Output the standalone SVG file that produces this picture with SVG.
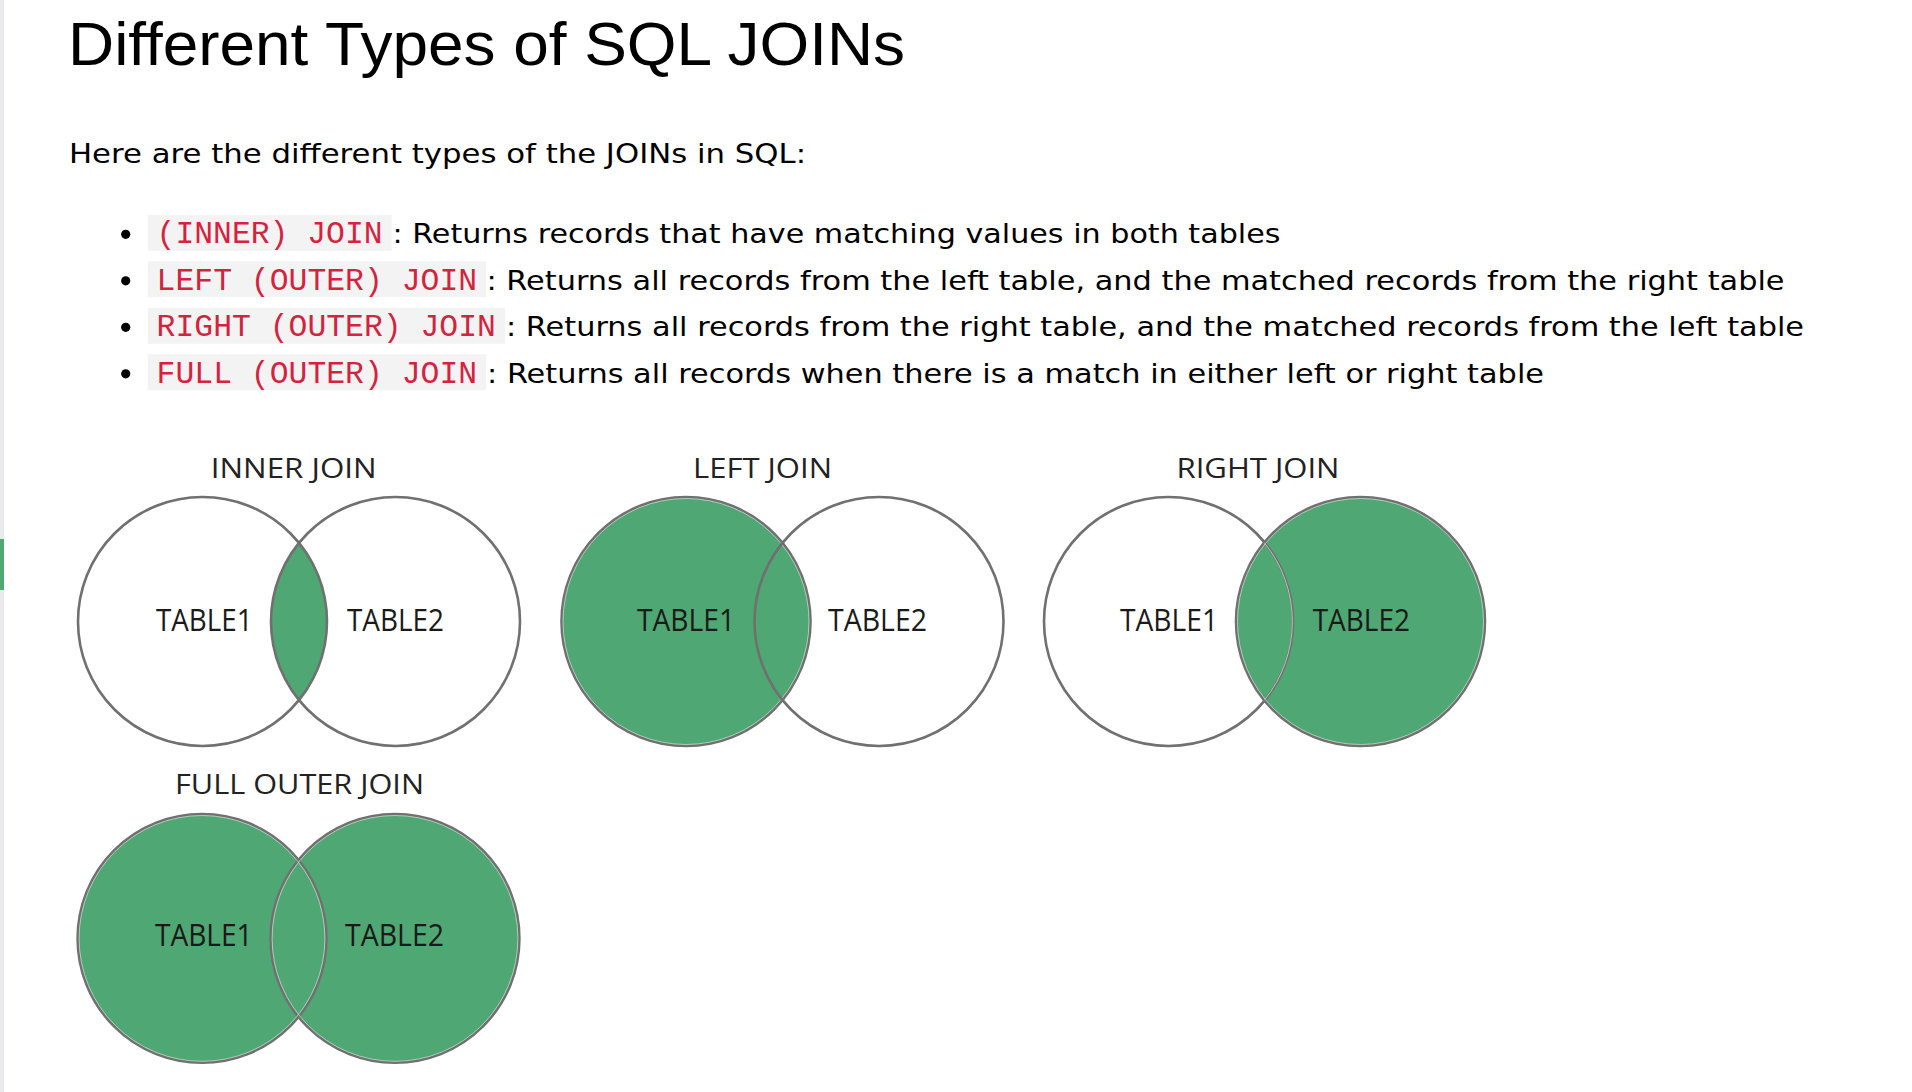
<svg xmlns="http://www.w3.org/2000/svg" width="1912" height="1092" viewBox="0 0 1912 1092">
<style>
.title{font-family:"Liberation Sans",Arial,sans-serif;font-size:61px;fill:#000}
.body{font-family:"DejaVu Sans",Verdana,sans-serif;font-size:26.5px;fill:#000}
.code{font-family:"Liberation Mono","DejaVu Sans Mono",monospace;font-size:32px;fill:#d2233f}
.codebg{fill:#f3f3f3}
.vt{font-family:"Open Sans","Noto Sans",sans-serif;font-size:28px;fill:#222;text-anchor:middle}
.vl{font-family:"Open Sans","Noto Sans",sans-serif;font-size:31px;fill:#1a1a1a;text-anchor:middle}
.ring{fill:none;stroke:#707070;stroke-width:2.6}
.fill{fill:#4fa773;stroke:none}
.halo{fill:none;stroke:#c9d6ce;stroke-width:0.8}
</style>
<rect x="0" y="0" width="1912" height="1092" fill="#fff"/>
<rect x="0" y="0" width="4" height="1092" fill="#e7e9eb"/>
<rect x="0" y="539" width="4" height="51" fill="#4eaa70"/>

<g id="heading">
<text class="title" x="68" y="65" textLength="837" lengthAdjust="spacingAndGlyphs">Different Types of SQL JOINs</text>
<text class="body" x="69" y="163.3" textLength="737" lengthAdjust="spacingAndGlyphs">Here are the different types of the JOINs in SQL:</text>
</g>

<g id="bullets">
<circle cx="125.7" cy="234.3" r="4.6" fill="#000"/>
<rect class="codebg" x="147.7" y="214.8" width="244" height="36"/>
<text class="code" x="156.6" y="243.3" textLength="226" lengthAdjust="spacingAndGlyphs">(INNER) JOIN</text>
<text class="body" x="392.5" y="243.3" textLength="888" lengthAdjust="spacingAndGlyphs">: Returns records that have matching values in both tables</text>

<circle cx="125.7" cy="280.8" r="4.6" fill="#000"/>
<rect class="codebg" x="147.7" y="261.3" width="338.3" height="36"/>
<text class="code" x="156.6" y="289.8" textLength="320.5" lengthAdjust="spacingAndGlyphs">LEFT (OUTER) JOIN</text>
<text class="body" x="486.5" y="289.8" textLength="1298" lengthAdjust="spacingAndGlyphs">: Returns all records from the left table, and the matched records from the right table</text>

<circle cx="125.7" cy="327.3" r="4.6" fill="#000"/>
<rect class="codebg" x="147.7" y="307.8" width="357.3" height="36"/>
<text class="code" x="156.6" y="336.3" textLength="339.3" lengthAdjust="spacingAndGlyphs">RIGHT (OUTER) JOIN</text>
<text class="body" x="506" y="336.3" textLength="1298" lengthAdjust="spacingAndGlyphs">: Returns all records from the right table, and the matched records from the left table</text>

<circle cx="125.7" cy="373.8" r="4.6" fill="#000"/>
<rect class="codebg" x="147.7" y="354.3" width="338.3" height="36"/>
<text class="code" x="156.6" y="382.8" textLength="320.5" lengthAdjust="spacingAndGlyphs">FULL (OUTER) JOIN</text>
<text class="body" x="487" y="382.8" textLength="1057" lengthAdjust="spacingAndGlyphs">: Returns all records when there is a match in either left or right table</text>
</g>

<g id="inner-join">
<text class="vt" x="293.7" y="478" textLength="166" lengthAdjust="spacingAndGlyphs">INNER JOIN</text>
<path class="fill" d="M299 542.8 A124.5 124.5 0 0 1 299 700.2 A124.5 124.5 0 0 1 299 542.8 Z"/>
<circle class="ring" cx="202.5" cy="621.5" r="124.5"/>
<circle class="ring" cx="395.5" cy="621.5" r="124.5"/>
<text class="vl" x="204.3" y="631" textLength="96.7" lengthAdjust="spacingAndGlyphs">TABLE1</text>
<text class="vl" x="395.5" y="631" textLength="97" lengthAdjust="spacingAndGlyphs">TABLE2</text>
</g>

<g id="left-join">
<text class="vt" x="762.5" y="478" textLength="139" lengthAdjust="spacingAndGlyphs">LEFT JOIN</text>
<circle class="fill" cx="686" cy="621.5" r="124.5"/>
<circle class="ring" cx="686" cy="621.5" r="124.5"/>
<circle class="halo" cx="686" cy="621.5" r="123"/>
<path class="halo" d="M782.5 542.8 A124.5 124.5 0 0 0 782.5 700.2"/>
<circle class="ring" cx="879" cy="621.5" r="124.5"/>
<text class="vl" x="686" y="631" textLength="98" lengthAdjust="spacingAndGlyphs">TABLE1</text>
<text class="vl" x="877.5" y="631" textLength="99" lengthAdjust="spacingAndGlyphs">TABLE2</text>
</g>

<g id="right-join">
<text class="vt" x="1258" y="478" textLength="163" lengthAdjust="spacingAndGlyphs">RIGHT JOIN</text>
<circle class="fill" cx="1360.5" cy="621.5" r="124.5"/>
<circle class="ring" cx="1168.5" cy="621.5" r="124.5"/>
<circle class="ring" cx="1360.5" cy="621.5" r="124.5"/>
<circle class="halo" cx="1360.5" cy="621.5" r="123"/>
<path class="halo" d="M1264.5 543 A124.5 124.5 0 0 1 1264.5 700"/>
<text class="vl" x="1169" y="631" textLength="98" lengthAdjust="spacingAndGlyphs">TABLE1</text>
<text class="vl" x="1361.3" y="631" textLength="97.3" lengthAdjust="spacingAndGlyphs">TABLE2</text>
</g>

<g id="full-outer-join">
<text class="vt" x="299.5" y="794" textLength="249" lengthAdjust="spacingAndGlyphs">FULL OUTER JOIN</text>
<circle class="fill" cx="202" cy="938.4" r="124.4"/>
<circle class="fill" cx="395" cy="938.4" r="124.4"/>
<circle class="ring" cx="202" cy="938.4" r="124.4"/>
<circle class="ring" cx="395" cy="938.4" r="124.4"/>
<circle class="halo" cx="202" cy="938.4" r="122.9"/>
<circle class="halo" cx="395" cy="938.4" r="122.9"/>
<text class="vl" x="203.8" y="946" textLength="97.7" lengthAdjust="spacingAndGlyphs">TABLE1</text>
<text class="vl" x="394.5" y="946" textLength="99" lengthAdjust="spacingAndGlyphs">TABLE2</text>
</g>
</svg>
